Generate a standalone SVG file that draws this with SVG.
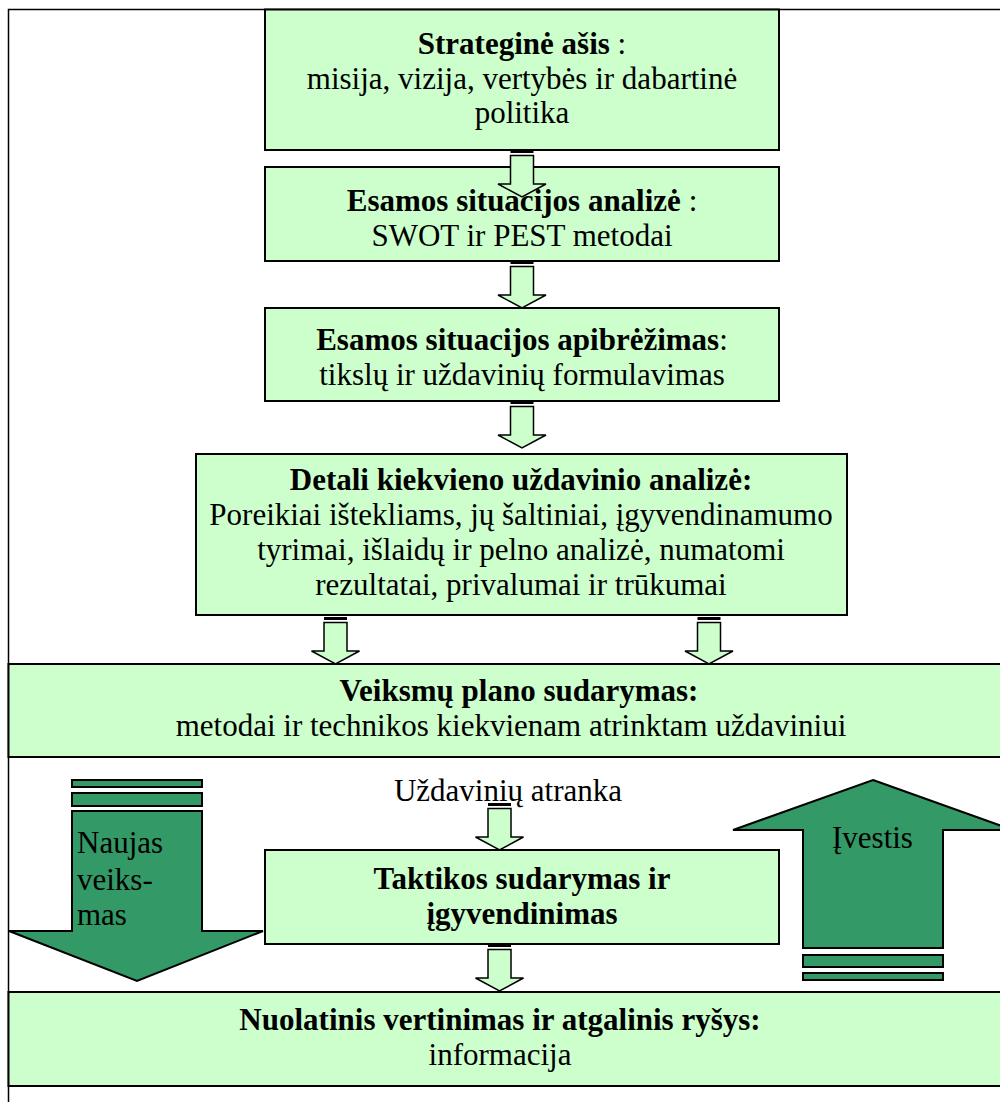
<svg xmlns="http://www.w3.org/2000/svg" width="1000" height="1102" viewBox="0 0 1000 1102">
<style>
.box{fill:#ccffcc;stroke:#000;stroke-width:2}
.big{fill:#339966;stroke:#000;stroke-width:2;stroke-linejoin:miter}
.t{font-family:"Liberation Serif","Times New Roman",serif;font-size:31px;fill:#000;text-anchor:middle}
.tl{font-family:"Liberation Serif","Times New Roman",serif;font-size:31px;fill:#000}
.b{font-weight:bold}
.sa{fill:#ccffcc;stroke:#000;stroke-width:1.5}
</style>
<defs>
<g id="smallArrow">
<rect x="-11.5" y="0" width="23" height="3" fill="#000"/>
<polygon class="sa" points="-11.5,5.5 11.5,5.5 11.5,34 24,34 0,47 -24,34 -11.5,34"/>
</g>
</defs>
<rect x="8.5" y="9.5" width="1000" height="1100" fill="#fff" stroke="#000" stroke-width="1.5"/>
<g id="node-strategine">
<rect class="box" x="265" y="9.5" width="514" height="140.5"/>
<text class="t" x="522" y="54"><tspan class="b">Strateginė ašis</tspan> :</text>
<text class="t" x="522" y="89">misija, vizija, vertybės ir dabartinė</text>
<text class="t" x="522" y="123">politika</text>
</g>
<g id="node-analize">
<rect class="box" x="265" y="167" width="514" height="94"/>
<text class="t" x="522" y="211"><tspan class="b">Esamos situacijos analizė</tspan> :</text>
<text class="t" x="522" y="246">SWOT ir PEST metodai</text>
</g>
<g id="node-apibrezimas">
<rect class="box" x="265" y="308" width="514" height="93"/>
<text class="t" x="522" y="350"><tspan class="b">Esamos situacijos apibrėžimas</tspan>:</text>
<text class="t" x="522" y="385">tikslų ir uždavinių formulavimas</text>
</g>
<g id="node-detali">
<rect class="box" x="196" y="454" width="651" height="161"/>
<text class="t b" x="521" y="490">Detali kiekvieno uždavinio analizė:</text>
<text class="t" x="521" y="525">Poreikiai ištekliams, jų šaltiniai, įgyvendinamumo</text>
<text class="t" x="521" y="560">tyrimai, išlaidų ir pelno analizė, numatomi</text>
<text class="t" x="521" y="595">rezultatai, privalumai ir trūkumai</text>
</g>
<g id="node-veiksmu">
<rect class="box" x="8.5" y="664" width="1000" height="93"/>
<text class="t b" x="519" y="701">Veiksmų plano sudarymas:</text>
<text class="t" x="511" y="736">metodai ir technikos kiekvienam atrinktam uždaviniui</text>
</g>
<g id="node-taktikos">
<rect class="box" x="265" y="850" width="514" height="94"/>
<text class="t b" x="522" y="889">Taktikos sudarymas ir</text>
<text class="t b" x="522" y="924">įgyvendinimas</text>
</g>
<g id="node-nuolatinis">
<rect class="box" x="8.5" y="992" width="1000" height="94"/>
<text class="t b" x="500" y="1030">Nuolatinis vertinimas ir atgalinis ryšys:</text>
<text class="t" x="500" y="1065">informacija</text>
</g>
<g id="node-naujas">
<rect class="big" x="72" y="780" width="130" height="7"/>
<rect class="big" x="72" y="793" width="130" height="13"/>
<polygon class="big" points="72,811 202,811 202,931 263,931 137,981 9,931 72,931"/>
<text class="tl" x="77" y="853">Naujas</text>
<text class="tl" x="77" y="890">veiks-</text>
<text class="tl" x="77" y="925">mas</text>
</g>
<g id="node-ivestis">
<polygon class="big" points="873,780 1013,830 943,830 943,948 803,948 803,830 733,830"/>
<rect class="big" x="803" y="955" width="140" height="12"/>
<rect class="big" x="803" y="973" width="140" height="7"/>
<text class="tl" x="832" y="848">Įvestis</text>
</g>
<g id="node-atranka">
<text class="t" x="508" y="801">Uždavinių atranka</text>
</g>
<g id="connectors">
<use href="#smallArrow" x="522" y="150"/>
<use href="#smallArrow" x="522" y="261"/>
<use href="#smallArrow" x="522" y="401"/>
<use href="#smallArrow" x="335.5" y="617"/>
<use href="#smallArrow" x="709" y="617"/>
<use href="#smallArrow" x="499.5" y="803"/>
<use href="#smallArrow" x="499.5" y="944"/>
</g>
</svg>
